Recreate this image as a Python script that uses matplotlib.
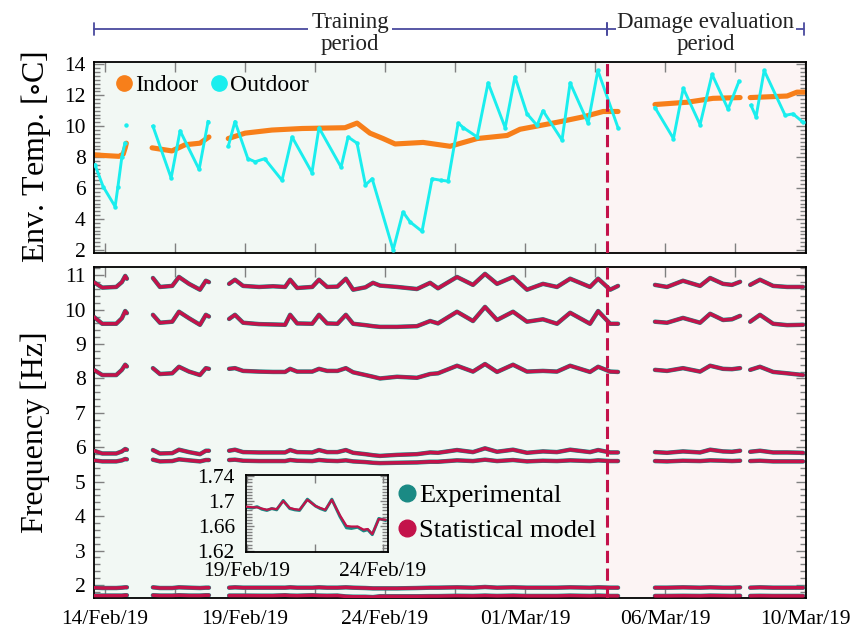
import numpy as np
import matplotlib
matplotlib.use('Agg')
import matplotlib.pyplot as plt
from matplotlib.lines import Line2D
from matplotlib.ticker import MultipleLocator
from matplotlib.transforms import blended_transform_factory

plt.rcParams['font.family'] = ['Liberation Serif', 'DejaVu Serif']
plt.rcParams['mathtext.fontset'] = 'stix'

nan = np.nan

# time axis = days since 14/Feb/19 00:00, nan = gap in the record
indoor_t = [-0.4, 0.0, 0.5, 0.65, 0.72, 0.76, nan,
            1.68, 2.39, 2.86, 3.39, 3.71, nan,
            4.4, 5.0, 5.96, 7.04, 8.57, 9.0, 9.46, 9.93, 10.36, 11.36, 12.32, 13.29, 14.36, 14.82,
            16.14, 17.07, 17.79, 18.32, nan,
            19.64, 20.8, 21.71, 22.68, nan,
            23.04, 24.36, 24.71, 25.0]
indoor_v = [8.15, 8.1, 8.05, 8.2, 8.6, 8.9, nan,
            8.6, 8.4, 8.8, 8.9, 9.3, nan,
            9.2, 9.55, 9.75, 9.85, 9.9, 10.2, 9.55, 9.2, 8.85, 8.95, 8.7, 9.2, 9.4, 9.8,
            10.25, 10.6, 10.95, 10.95, nan,
            11.4, 11.55, 11.8, 11.85, nan,
            11.85, 11.95, 12.2, 12.2]

outdoor_t = [-0.36, -0.07, 0.36, 0.46, 0.6, 0.71, nan, 0.75, nan,
             1.71, 2.36, 2.68, 3.36, 3.68, nan,
             4.4, 4.64, 5.1, 5.36, 5.7, 6.32, 6.68, 7.39, 7.64, 8.43, 8.68, 9.0, 9.3, 9.54,
             10.29, 10.64, 10.9, 11.32, 11.68, 12.0, 12.25, 12.61, 12.8, 13.29, 13.68, 14.29,
             14.64, 15.07, 15.43, 15.64, 16.32, 16.61, 17.25, 17.6, 18.32, nan,
             19.64, 20.3, 20.65, 21.25, 21.68, 22.25, 22.64, nan,
             23.07, 23.25, 23.54, 24.29, 24.57, 24.93]
outdoor_v = [7.5, 6.1, 4.8, 6.1, 8.0, 8.9, nan, 10.1, nan,
             10.0, 6.65, 9.7, 7.2, 10.3, nan,
             8.7, 10.3, 7.9, 7.7, 7.9, 6.5, 9.3, 7.0, 9.9, 7.35, 9.3, 8.9, 6.2, 6.6,
             2.0, 4.45, 3.8, 3.2, 6.6, 6.5, 6.45, 10.2, 9.9, 9.3, 12.8, 9.9,
             13.2, 10.8, 10.05, 11.0, 9.1, 12.8, 10.2, 13.6, 9.9, nan,
             11.2, 9.2, 12.45, 10.1, 13.35, 11.1, 12.9, nan,
             11.35, 10.6, 13.6, 10.7, 10.8, 10.25]

freq_t = [-0.4, -0.1, 0.4, 0.6, 0.72, 0.78, nan,
          1.71, 1.96, 2.4, 2.64, 3.0, 3.39, 3.6, 3.71, nan,
          4.43, 4.64, 4.93, 5.5, 6.0, 6.43, 6.61, 6.86, 7.4, 7.64, 7.93, 8.3, 8.6, 8.86, 9.3, 9.57,
          9.82, 10.43, 11.14, 11.61, 11.89, 12.57, 13.14, 13.57, 14.0, 14.57, 15.07, 15.64, 16.14,
          16.61, 17.32, 17.61, 18.04, 18.32, nan,
          19.64, 20.07, 20.64, 21.25, 21.61, 22.07, 22.39, 22.68, nan,
          23.04, 23.39, 23.86, 24.36, 24.93]

# natural frequencies [Hz]; experimental and model overlap at this scale
mode1 = [1.69, 1.69, 1.69, 1.69, 1.70, 1.70, nan,
         1.70, 1.69, 1.69, 1.70, 1.69, 1.69, 1.70, 1.70, nan,
         1.69, 1.69, 1.69, 1.687, 1.687, 1.70, 1.69, 1.686, 1.70, 1.69, 1.686, 1.69, 1.665, 1.657,
         1.656, 1.646, 1.67, 1.67, 1.67, 1.675, 1.675, 1.685, 1.68, 1.69, 1.68, 1.69, 1.68, 1.68,
         1.68, 1.69, 1.68, 1.69, 1.68, 1.68, nan,
         1.68, 1.68, 1.685, 1.68, 1.69, 1.685, 1.68, 1.685, nan,
         1.68, 1.685, 1.68, 1.68, 1.68]
mode2 = [1.92, 1.91, 1.91, 1.92, 1.93, 1.93, nan,
         1.93, 1.91, 1.91, 1.93, 1.92, 1.91, 1.92, 1.92, nan,
         1.92, 1.93, 1.92, 1.92, 1.92, 1.92, 1.93, 1.92, 1.92, 1.93, 1.92, 1.92, 1.93, 1.92,
         1.91, 1.90, 1.90, 1.90, 1.91, 1.92, 1.92, 1.93, 1.92, 1.94, 1.92, 1.93, 1.92, 1.92,
         1.92, 1.93, 1.92, 1.93, 1.92, 1.92, nan,
         1.92, 1.92, 1.93, 1.92, 1.93, 1.92, 1.92, 1.93, nan,
         1.92, 1.93, 1.92, 1.92, 1.92]
mode3 = [5.62, 5.59, 5.59, 5.62, 5.66, 5.65, nan,
         5.64, 5.59, 5.6, 5.65, 5.62, 5.59, 5.63, 5.63, nan,
         5.63, 5.64, 5.61, 5.6, 5.6, 5.6, 5.63, 5.61, 5.6, 5.63, 5.61, 5.6, 5.62, 5.59, 5.57,
         5.55, 5.54, 5.55, 5.56, 5.58, 5.58, 5.62, 5.6, 5.64, 5.6, 5.63, 5.59, 5.61, 5.6, 5.62,
         5.6, 5.62, 5.6, 5.6, nan,
         5.6, 5.59, 5.61, 5.6, 5.62, 5.61, 5.6, 5.61, nan,
         5.6, 5.61, 5.59, 5.59, 5.59]
mode4 = [5.9, 5.82, 5.82, 5.88, 5.95, 5.93, nan,
         5.92, 5.82, 5.83, 5.93, 5.86, 5.8, 5.9, 5.9, nan,
         5.9, 5.93, 5.86, 5.85, 5.85, 5.85, 5.92, 5.86, 5.85, 5.92, 5.86, 5.86, 5.92, 5.84, 5.8,
         5.77, 5.75, 5.78, 5.8, 5.85, 5.84, 5.92, 5.86, 5.97, 5.87, 5.93, 5.84, 5.88, 5.86, 5.93,
         5.86, 5.92, 5.85, 5.85, nan,
         5.86, 5.84, 5.88, 5.85, 5.93, 5.88, 5.87, 5.9, nan,
         5.87, 5.9, 5.85, 5.85, 5.84]
mode5 = [8.25, 8.1, 8.1, 8.25, 8.4, 8.35, nan,
         8.3, 8.13, 8.15, 8.34, 8.2, 8.1, 8.3, 8.28, nan,
         8.28, 8.3, 8.22, 8.2, 8.19, 8.19, 8.28, 8.2, 8.2, 8.28, 8.22, 8.22, 8.3, 8.18, 8.1,
         8.05, 8.0, 8.05, 8.02, 8.13, 8.15, 8.37, 8.2, 8.42, 8.19, 8.4, 8.2, 8.22, 8.2, 8.37,
         8.19, 8.34, 8.2, 8.19, nan,
         8.25, 8.22, 8.3, 8.2, 8.37, 8.28, 8.27, 8.3, nan,
         8.25, 8.34, 8.19, 8.15, 8.1]
mode6 = [9.79, 9.59, 9.59, 9.75, 9.96, 9.9, nan,
         9.85, 9.62, 9.65, 9.94, 9.75, 9.56, 9.85, 9.8, nan,
         9.73, 9.85, 9.62, 9.58, 9.57, 9.56, 9.85, 9.6, 9.59, 9.85, 9.6, 9.59, 9.85, 9.59, 9.55,
         9.52, 9.5, 9.5, 9.52, 9.67, 9.6, 9.94, 9.67, 10.08, 9.7, 9.94, 9.65, 9.72, 9.59, 9.91,
         9.59, 9.96, 9.59, 9.59, nan,
         9.65, 9.62, 9.76, 9.62, 9.88, 9.7, 9.72, 9.82, nan,
         9.65, 9.85, 9.59, 9.55, 9.56]
mode7 = [10.8, 10.64, 10.66, 10.8, 10.98, 10.9, nan,
         10.92, 10.66, 10.69, 10.95, 10.75, 10.58, 10.84, 10.8, nan,
         10.75, 10.87, 10.69, 10.66, 10.68, 10.66, 10.87, 10.63, 10.66, 10.87, 10.66, 10.67, 10.9,
         10.58, 10.65, 10.78, 10.7, 10.66, 10.6, 10.78, 10.62, 10.95, 10.72, 11.04, 10.75, 10.95,
         10.58, 10.75, 10.66, 10.9, 10.66, 10.9, 10.58, 10.69, nan,
         10.72, 10.66, 10.84, 10.69, 10.92, 10.75, 10.72, 10.81, nan,
         10.72, 10.87, 10.69, 10.66, 10.66]
modes = [mode1, mode2, mode3, mode4, mode5, mode6, mode7]

# inset: first mode, 19/Feb - 24/Feb
inset_t = [5.0, 5.2, 5.38, 5.55, 5.74, 5.92, 6.1, 6.34, 6.58, 6.76, 6.94, 7.23, 7.53, 7.7, 7.89,
           8.13, 8.43, 8.67, 8.85, 9.08, 9.3, 9.45, 9.62, 9.86, 10.1]
inset_exp = [1.690, 1.689, 1.691, 1.687, 1.685, 1.688, 1.686, 1.701, 1.688, 1.686, 1.685, 1.703,
             1.692, 1.688, 1.685, 1.703, 1.675, 1.657, 1.656, 1.658, 1.652, 1.654, 1.646, 1.672, 1.669]
inset_model = [1.691, 1.690, 1.690, 1.688, 1.686, 1.688, 1.687, 1.700, 1.689, 1.687, 1.686, 1.702,
               1.692, 1.689, 1.686, 1.702, 1.677, 1.660, 1.659, 1.659, 1.654, 1.655, 1.647, 1.671, 1.670]

date_labels = ['14/Feb/19', '19/Feb/19', '24/Feb/19', '01/Mar/19', '06/Mar/19', '10/Mar/19']
split_day = 17.93

c_in = '#f77f1a'
c_out = '#1aeeee'
c_exp = '#1a8a84'
c_mod = '#c3124a'
c_train = '#f2f8f4'
c_dmg = '#fcf4f4'
c_head = '#4a4a9e'


def style(ax):
    ax.tick_params(which='both', direction='in', top=True, right=True,
                   colors='#808080', labelcolor='black', labelsize=15.5)
    ax.tick_params(which='major', length=7, width=1)
    ax.tick_params(which='minor', length=4, width=1)
    for s in ax.spines.values():
        s.set_linewidth(1.3)


fig = plt.figure(figsize=(8.61, 6.30), dpi=100)
ax1 = fig.add_axes([0.109, 0.5984, 0.827, 0.3032])
ax2 = fig.add_axes([0.109, 0.0508, 0.827, 0.5254], sharex=ax1)

for ax in (ax1, ax2):
    ax.axvspan(-1, split_day, color=c_train, lw=0, zorder=0)
    ax.axvspan(split_day, 30, color=c_dmg, lw=0, zorder=0)
    ax.axvline(split_day, color=c_mod, lw=2.2, ls=(0, (4, 1.8)), zorder=5)
    style(ax)
    ax.tick_params(axis='y', pad=6)

# temperatures
ax1.plot(indoor_t, indoor_v, color=c_in, lw=3.7, solid_capstyle='round', zorder=2)
ax1.plot(outdoor_t, outdoor_v, color=c_out, lw=2.1, marker='o', ms=2.2, zorder=3)
ax1.set_ylim(1.8, 14.15)
ax1.set_yticks(range(2, 15, 2))
ax1.yaxis.set_minor_locator(MultipleLocator(0.25))
ax1.set_ylabel(r'Env. Temp. [$\circ$C]', fontsize=23, labelpad=8)
ax1.tick_params(labelbottom=False)
h_leg = [Line2D([], [], ls='', marker='o', ms=11, color=c_in),
         Line2D([], [], ls='', marker='o', ms=11, color=c_out)]
ax1.legend(h_leg, ['Indoor', 'Outdoor'], loc='upper left', ncol=2, frameon=False,
           fontsize=17, handlelength=0.6, handletextpad=0.15, columnspacing=0.6,
           borderaxespad=0.25, bbox_to_anchor=(0.011, 1.016))

# frequencies
for m in modes:
    ax2.plot(freq_t, m, color=c_exp, lw=3.2, solid_capstyle='round', zorder=2)
    ax2.plot(freq_t, m, color=c_mod, lw=2.5, solid_capstyle='round', zorder=3)
ax2.set_ylim(1.62, 11.24)
ax2.set_yticks(range(2, 12))
ax2.yaxis.set_minor_locator(MultipleLocator(0.2))
ax2.set_ylabel('Frequency [Hz]', fontsize=23, labelpad=10)
ax2.set_xlim(-0.4, 25.03)
ax2.set_xticks(np.arange(0, 25.01, 2.5))
xl = []
for lab in date_labels:
    xl += [lab, '']
ax2.set_xticklabels(xl[:-1])
ax2.tick_params(axis='x', pad=9)
h_leg2 = [Line2D([], [], ls='', marker='o', ms=12, color=c_exp),
          Line2D([], [], ls='', marker='o', ms=12, color=c_mod)]
ax2.legend(h_leg2, ['Experimental', 'Statistical model'], loc='upper left',
           bbox_to_anchor=(0.396, 0.418), frameon=False, fontsize=19, handlelength=0.6,
           handletextpad=0.15, labelspacing=0.45)

# inset
axi = fig.add_axes([0.2857, 0.1238, 0.165, 0.1222])
axi.set_facecolor(c_train)
axi.plot(inset_t, inset_exp, color=c_exp, lw=2.2, zorder=2)
axi.plot(inset_t, inset_model, color=c_mod, lw=1.6, zorder=3)
axi.set_xlim(4.97, 10.2)
axi.set_ylim(1.618, 1.742)
axi.set_xticks([5, 7.5, 10])
axi.set_xticklabels(['19/Feb/19', '', '24/Feb/19'])
axi.set_yticks([1.62, 1.66, 1.70, 1.74])
axi.set_yticklabels(['1.62', '1.66', '1.7', '1.74'])
axi.yaxis.set_minor_locator(MultipleLocator(0.005))
style(axi)
axi.tick_params(which='major', length=6)
axi.tick_params(which='minor', length=4)
axi.tick_params(axis='x', pad=7)
axi.tick_params(axis='y', pad=8)

# period header
tr = blended_transform_factory(ax1.transData, fig.transFigure)
y_line = 1 - 29 / 630
for a, b in [(-0.4, split_day), (split_day, 24.95)]:
    ax1.annotate('', xy=(a, y_line), xytext=(b, y_line), xycoords=tr, textcoords=tr,
                 annotation_clip=False,
                 arrowprops=dict(arrowstyle='|-|,widthA=0.45,widthB=0.45', color=c_head,
                                 lw=1.3, shrinkA=0, shrinkB=0, mutation_scale=10))
ax1.text(8.75, 0.947, 'Training\nperiod', transform=tr, ha='center', va='center',
         fontsize=16.5, linespacing=1.1, color='#222222',
         bbox=dict(fc='white', ec='none', pad=2))
ax1.text(21.45, 0.947, 'Damage evaluation\nperiod', transform=tr, ha='center', va='center',
         fontsize=16.5, linespacing=1.1, color='#222222',
         bbox=dict(fc='white', ec='none', pad=1))

fig.savefig('out.png', dpi=100)
